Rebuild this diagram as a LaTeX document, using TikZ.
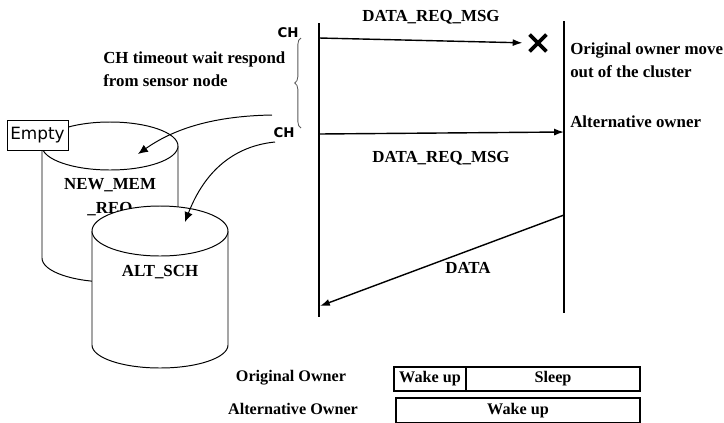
\documentclass[tikz,border=0pt]{standalone}
\usepackage{fontspec}
\setmainfont{Liberation Serif}
\setsansfont{DejaVu Sans}
\usetikzlibrary{shapes, calc, arrows.meta, decorations.pathreplacing}

\tikzset{
	life/.style={line width=1.3pt},
	msg/.style={-{Latex[length=7pt, width=5pt]}, line width=1pt},
	curvedarrow/.style={-{Latex[length=7pt, width=6pt]}, line width=0.7pt},
	txt/.style={font=\bfseries\fontsize{12}{16}\selectfont, inner sep=0pt, align=left},
	chlabel/.style={font=\sffamily\bfseries\fontsize{9.5}{10}\selectfont, inner sep=0pt},
	slot/.style={draw, line width=0.8pt, inner sep=0pt, outer sep=0pt, minimum height=0.6cm,
		font=\bfseries\fontsize{11.5}{13}\selectfont},
	drum/.style={line width=0.7pt, fill=white}
}

\begin{document}
\begin{tikzpicture}[x=0.025cm, y=-0.025cm]
	\useasboundingbox (0,0) rectangle (724,422);

	% lifelines
	\coordinate (ch top) at (319,23);
	\coordinate (ch bot) at (319,317);
	\coordinate (own top) at (564,21);
	\coordinate (own bot) at (564,313);
	\draw[life] (ch top) -- (ch bot);
	\draw[life] (own top) -- (own bot);

	\coordinate (ch m1) at (319,38);
	\coordinate (ch m2) at (319,134);
	\coordinate (own m2) at (564,132);
	\coordinate (own data) at (564,215);
	\coordinate (ch data) at (320,306);

	% messages
	\node[draw, cross out, line width=2.6pt, minimum size=0.33cm, inner sep=0pt] (lost) at (538,43) {};
	\draw[msg, shorten >=5pt] (ch m1) -- (lost.west);
	\draw[msg] (ch m2) -- (own m2);
	\draw[msg] (own data) -- (ch data);

	\node[txt] (req1) at (431,17) {DATA\_REQ\_MSG};
	\node[txt] (req2) at (441,158) {DATA\_REQ\_MSG};
	\node[txt] (data) at (468,268) {DATA};

	\node[txt, anchor=west] (moved) at (570,60) {Original owner move\\out of the cluster};
	\node[txt, anchor=west] (alt) at (570,122) {Alternative owner};

	\node[chlabel] (ch1) at (288,33) {CH};
	\node[chlabel] (ch2) at (284,133) {CH};

	% timeout
	\draw[decorate, decoration={brace, amplitude=4.5pt}, gray!70!black, line width=0.6pt]
		(301,128) -- (301,38);
	\node[txt, anchor=west] (timeout) at (103,69) {CH timeout wait respond\\from sensor node};

	% storage
	\draw[drum] (42,146) -- (42,258) arc[start angle=180, end angle=0, x radius=68, y radius=24] -- (178,146);
	\draw[drum] (110,146) ellipse [x radius=68, y radius=24];
	\node[txt] (newmem) at (110,185) {NEW\_MEM};
	\node[txt] (newreq) at (110,209) {\_REQ};

	\node[draw, fill=white, line width=0.7pt, inner sep=0pt, minimum width=1.525cm, minimum height=0.75cm,
		font=\sffamily\fontsize{12}{14}\selectfont] (empty) at (37.5,135) {Empty};

	\draw[drum] (92,231) -- (92,345) arc[start angle=180, end angle=0, x radius=68, y radius=23] -- (228,231);
	\draw[drum] (160,231) ellipse [x radius=68, y radius=25];
	\node[txt] (altsch) at (160,272) {ALT\_SCH};

	\coordinate (tout end) at (272,115);
	\coordinate (newmem top) at (138,154);
	\coordinate (ch2 end) at (275,142);
	\coordinate (altsch top) at (185,222);
	\draw[curvedarrow] (tout end) .. controls (215,116) and (175,128) .. (newmem top);
	\draw[curvedarrow] (ch2 end) .. controls (235,146) and (205,170) .. (altsch top);

	% duty cycle
	\node[txt] (orig) at (291,378) {\fontsize{11.5}{13}\selectfont Original Owner};
	\node[txt] (altown) at (293,409) {\fontsize{11.5}{13}\selectfont Alternative Owner};

	\node[slot, minimum width=1.8cm] (wake1) at (430,379) {Wake up};
	\node[slot, minimum width=4.35cm, anchor=west] (sleep) at (wake1.east) {Sleep};
	\node[slot, minimum width=6.1cm, minimum height=0.625cm] (wake2) at (518,410.5) {Wake up};
\end{tikzpicture}
\end{document}
